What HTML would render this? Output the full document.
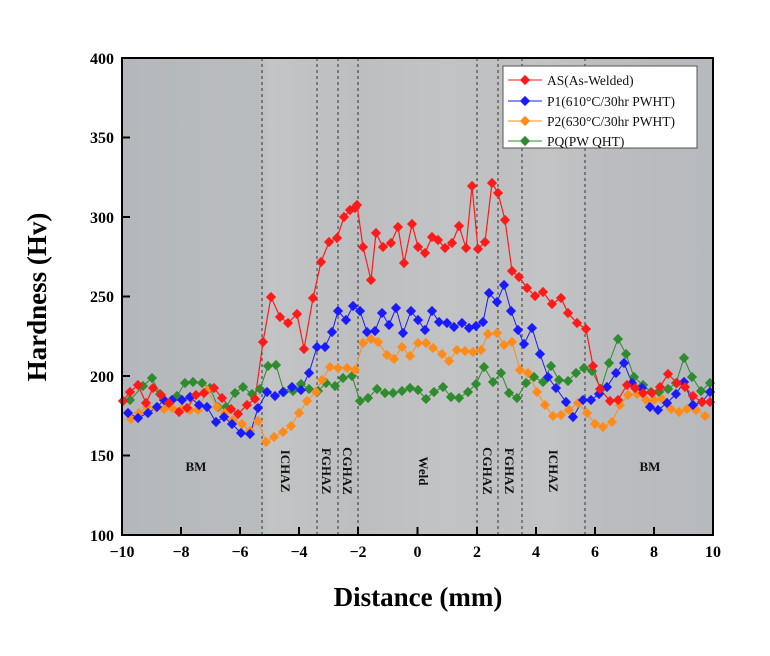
<!DOCTYPE html>
<html><head><meta charset="utf-8"><style>
body{margin:0;background:#fff;}
svg text{font-family:"Liberation Serif",serif;font-weight:bold;}
</style></head><body>
<svg width="770" height="651" viewBox="0 0 770 651" xmlns="http://www.w3.org/2000/svg">
<defs>
<linearGradient id="bg" x1="0" x2="1" y1="0" y2="0">
<stop offset="0" stop-color="#b4b7bb"/><stop offset="0.23" stop-color="#b9bcbf"/>
<stop offset="0.25" stop-color="#c3c4c5"/><stop offset="0.33" stop-color="#c0c1c2"/>
<stop offset="0.4" stop-color="#bcbec0"/><stop offset="0.55" stop-color="#c2c3c4"/>
<stop offset="0.65" stop-color="#bfc0c1"/><stop offset="0.72" stop-color="#c3c4c5"/>
<stop offset="0.8" stop-color="#bbbdc0"/><stop offset="1" stop-color="#b6b9bd"/>
</linearGradient>
<g id="d"><rect x="-3.6" y="-3.6" width="7.2" height="7.2" transform="rotate(45)"/></g>
</defs>
<rect x="122" y="58" width="591" height="477" fill="url(#bg)"/>
<g stroke="#333" stroke-width="1" stroke-dasharray="3,3">
<line x1="262" y1="58" x2="262" y2="535"/><line x1="317" y1="58" x2="317" y2="535"/>
<line x1="338" y1="58" x2="338" y2="535"/><line x1="358" y1="58" x2="358" y2="535"/>
<line x1="477" y1="58" x2="477" y2="535"/><line x1="498" y1="58" x2="498" y2="535"/>
<line x1="522" y1="58" x2="522" y2="535"/><line x1="585" y1="58" x2="585" y2="535"/>
</g>
<g font-size="13" fill="#111">
<text x="196" y="471" text-anchor="middle">BM</text>
<text x="650" y="471" text-anchor="middle">BM</text>
<text transform="translate(281,471) rotate(90)" text-anchor="middle">ICHAZ</text>
<text transform="translate(322,471) rotate(90)" text-anchor="middle">FGHAZ</text>
<text transform="translate(343,471) rotate(90)" text-anchor="middle">CGHAZ</text>
<text transform="translate(419,471) rotate(90)" text-anchor="middle">Weld</text>
<text transform="translate(483,471) rotate(90)" text-anchor="middle">CGHAZ</text>
<text transform="translate(505,471) rotate(90)" text-anchor="middle">FGHAZ</text>
<text transform="translate(549,471) rotate(90)" text-anchor="middle">ICHAZ</text>
</g>
<g id="series">
<polyline fill="none" stroke="#2e8b2e" stroke-width="1" points="130,400 143,386 152,378 160,394 169,404 177,396 185,383 193,382 202,383 210,388 218,407 226,407 235,393 243,387 252,394 260,389 268,366 276,365 284,392 293,391 301,384 309,389 318,391 326,383 335,386 343,378 352,376 360,401 368,398 377,389 385,393 393,393 402,391 410,388 418,390 426,399 434,392 443,387 451,397 459,398 468,392 476,384 484,367 493,382 501,373 509,393 517,398 526,383 534,377 543,382 551,366 559,380 568,381 576,373 584,368 592,371 601,389 609,363 618,339 626,354 634,377 643,385 651,392 659,392 668,389 676,383 684,358 692,377 701,391 710,383"/>
<polyline fill="none" stroke="#ff8c1a" stroke-width="1" points="131,419 139,413 147,407 156,408 164,409 172,408 182,409 190,410 198,410 207,390 217,407 225,413 233,420 242,424 250,431 258,421 266,442 274,437 283,432 291,426 299,413 307,401 316,392 322,380 330,367 338,368 347,368 355,370 363,343 371,339 378,342 387,355 394,359 402,347 410,356 418,343 426,343 433,348 442,354 449,361 457,350 465,351 473,352 481,350 488,334 497,333 504,345 512,342 520,370 528,373 537,392 545,405 553,416 561,415 569,410 578,403 587,413 595,424 603,427 612,422 620,405 628,395 637,394 646,400 654,400 662,399 671,409 679,412 687,409 696,410 705,416"/>
<polyline fill="none" stroke="#1a1aff" stroke-width="1" points="128,413 138,418 148,413 157,407 164,400 172,400 182,400 190,397 199,405 207,407 216,422 224,417 232,424 241,433 250,434 258,408 267,392 275,396 283,392 292,387 301,390 309,373 317,347 325,347 332,332 338,311 346,320 353,306 360,311 367,332 375,331 382,313 389,325 396,308 403,333 411,311 418,320 425,330 432,311 439,322 447,323 454,327 462,323 469,328 476,326 483,322 489,293 497,302 504,285 511,311 518,330 524,344 532,328 540,354 548,377 556,388 566,402 573,417 583,400 591,400 599,394 607,387 616,373 624,363 632,383 642,388 650,407 658,410 667,403 676,394 684,382 693,405 702,402 710,392"/>
<polyline fill="none" stroke="#ff1a1a" stroke-width="1.2" points="123,401 130,392 138,385 146,403 153,388 161,395 169,403 179,412 187,408 196,395 204,393 214,388 222,398 231,409 238,414 247,405 255,399 263,342 271,297 280,317 288,323 297,314 304,349 313,298 321,262 329,242 337,238 344,217 350,210 355,208 357,205 363,247 371,280 376,233 383,247 391,243 398,227 404,263 412,224 418,247 425,253 432,237 438,240 445,248 452,243 459,226 466,248 472,186 478,249 485,242 492,183 498,193 505,220 512,271 519,277 527,288 535,296 543,292 552,304 561,298 568,313 577,323 586,329 593,366 600,389 610,401 618,400 627,385 635,388 643,393 652,393 660,387 668,374 677,383 685,387 693,396 702,402 710,402"/>
</g>
<rect x="503" y="66" width="194" height="82" fill="#fff" stroke="#555" stroke-width="1"/>
<g stroke-width="1">
<line x1="508" y1="80" x2="542" y2="80" stroke="#ff1a1a"/><use href="#d" x="525" y="80" fill="#ff1a1a"/>
<line x1="508" y1="101" x2="542" y2="101" stroke="#1a1aff"/><use href="#d" x="525" y="101" fill="#1a1aff"/>
<line x1="508" y1="121" x2="542" y2="121" stroke="#ff8c1a"/><use href="#d" x="525" y="121" fill="#ff8c1a"/>
<line x1="508" y1="141" x2="542" y2="141" stroke="#2e8b2e"/><use href="#d" x="525" y="141" fill="#2e8b2e"/>
</g>
<g font-size="13.5" fill="#111" style="font-weight:normal">
<text x="547" y="85" style="font-weight:normal">AS(As-Welded)</text>
<text x="547" y="106" style="font-weight:normal">P1(610°C/30hr PWHT)</text>
<text x="547" y="126" style="font-weight:normal">P2(630°C/30hr PWHT)</text>
<text x="547" y="146" style="font-weight:normal">PQ(PW QHT)</text>
</g>
<rect x="122" y="58" width="591" height="477" fill="none" stroke="#000" stroke-width="2"/>
<g stroke="#000" stroke-width="2">
<line x1="122" y1="137.5" x2="130" y2="137.5"/><line x1="122" y1="217" x2="130" y2="217"/>
<line x1="122" y1="296.5" x2="130" y2="296.5"/><line x1="122" y1="376" x2="130" y2="376"/>
<line x1="122" y1="455.5" x2="130" y2="455.5"/>
<line x1="181" y1="535" x2="181" y2="527"/><line x1="240" y1="535" x2="240" y2="527"/>
<line x1="299" y1="535" x2="299" y2="527"/><line x1="358" y1="535" x2="358" y2="527"/>
<line x1="417.5" y1="535" x2="417.5" y2="527"/><line x1="477" y1="535" x2="477" y2="527"/>
<line x1="536" y1="535" x2="536" y2="527"/><line x1="595" y1="535" x2="595" y2="527"/>
<line x1="654" y1="535" x2="654" y2="527"/>
</g>
<g font-size="16" fill="#000" text-anchor="end">
<text x="114" y="64">400</text><text x="114" y="143">350</text><text x="114" y="223">300</text>
<text x="114" y="302">250</text><text x="114" y="382">200</text><text x="114" y="461">150</text>
<text x="114" y="541">100</text>
</g>
<g font-size="16" fill="#000" text-anchor="middle">
<text x="122" y="557">−10</text><text x="181" y="557">−8</text><text x="240" y="557">−6</text>
<text x="299" y="557">−4</text><text x="358" y="557">−2</text><text x="417.5" y="557">0</text>
<text x="477" y="557">2</text><text x="536" y="557">4</text><text x="595" y="557">6</text>
<text x="654" y="557">8</text><text x="713" y="557">10</text>
</g>
<text x="418" y="606" font-size="27" text-anchor="middle">Distance (mm)</text>
<text transform="translate(46,297) rotate(-90)" font-size="27" text-anchor="middle">Hardness (Hv)</text>
</svg>
<script>
(function(){
var cols={"#ff1a1a":1,"#1a1aff":1,"#ff8c1a":1,"#2e8b2e":1};
var g=document.getElementById('series');
var pls=g.querySelectorAll('polyline');
pls.forEach(function(p){
 var c=p.getAttribute('stroke');
 p.getAttribute('points').trim().split(/\s+/).forEach(function(pt){
  var a=pt.split(',');
  var u=document.createElementNS('http://www.w3.org/2000/svg','use');
  u.setAttribute('href','#d');u.setAttribute('x',a[0]);u.setAttribute('y',a[1]);u.setAttribute('fill',c);
  g.appendChild(u);
 });
});
})();
</script>
</body></html>
